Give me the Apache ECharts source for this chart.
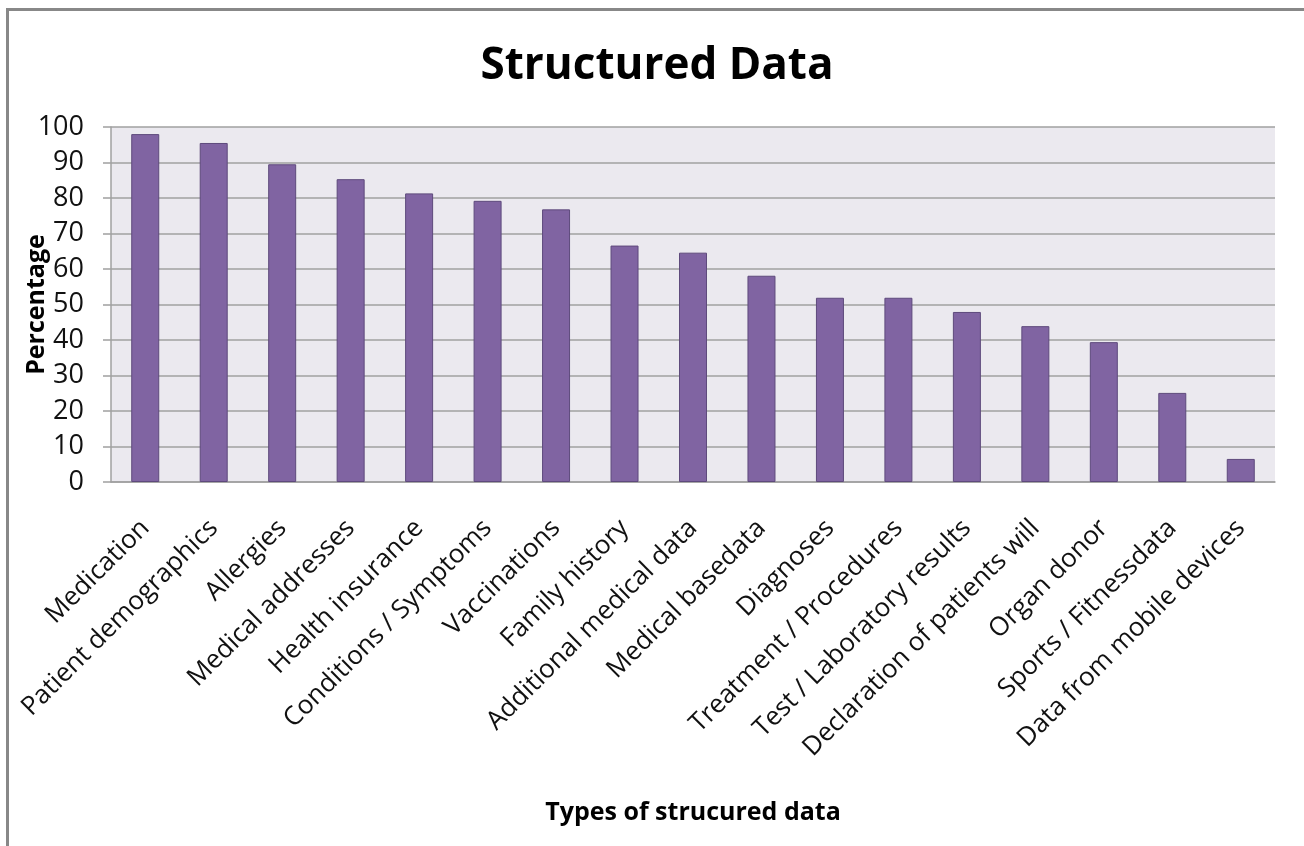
<!DOCTYPE html>
<html>
<head>
<meta charset="utf-8">
<title>Structured Data</title>
<script src="https://cdn.jsdelivr.net/npm/echarts@6/dist/echarts.min.js"></script>
<style>
  html, body { margin: 0; padding: 0; background: #fff; overflow: hidden; }
  #frame {
    position: absolute; left: 6px; top: 8px; width: 1400px; height: 1000px;
    border-top: 3px solid #888; border-left: 3px solid #888;
  }
  #chart { position: absolute; left: 0; top: 0; width: 1304px; height: 846px; }
</style>
</head>
<body>
<div id="frame"></div>
<div id="chart"></div>
<script>
// Types of structured data, sorted as in the source chart
const categories = [
  'Medication',
  'Patient demographics',
  'Allergies',
  'Medical addresses',
  'Health insurance',
  'Conditions / Symptoms',
  'Vaccinations',
  'Family history',
  'Additional medical data',
  'Medical basedata',
  'Diagnoses',
  'Treatment / Procedures',
  'Test / Laboratory results',
  'Declaration of patients will',
  'Organ donor',
  'Sports / Fitnessdata',
  'Data from mobile devices',
];

// Percentage per type
const percentages = [98, 95.5, 89.5, 85.3, 81.3, 79.2, 76.8, 66.6, 64.6, 58.1, 51.9, 51.9, 47.9, 43.9, 39.4, 25.1, 6.5];

const yTicks = { min: 0, max: 100, interval: 10 };

const FONT = '"Open Sans", "DejaVu Sans", sans-serif';
const BAR_COLOR = '#8064A2';
const BAR_BORDER = '#5E4A7C';
const GRID_LINE = '#A0A0A0';

const chart = echarts.init(document.getElementById('chart'));

const option = {
  animation: false,
  title: {
    text: 'Structured Data',
    left: 652,
    top: 39,
    textAlign: 'center',
    textStyle: {
      fontFamily: FONT,
      fontSize: 44,
      fontWeight: 'bold',
      color: '#000',
    },
  },
  grid: {
    left: 111,
    right: 29,
    top: 127,
    bottom: 364,
    containLabel: false,
    outerBoundsMode: 'none',
    show: true,
    backgroundColor: '#EBE9EF',
    borderWidth: 0,
  },
  xAxis: {
    type: 'category',
    data: categories,
    name: 'Types of strucured data',
    nameLocation: 'middle',
    nameGap: 318,
    nameMoveOverlap: false,
    nameTextStyle: {
      fontFamily: FONT,
      fontSize: 25,
      fontWeight: 'bold',
      color: '#000',
    },
    axisLine: { lineStyle: { color: GRID_LINE, width: 1.5 } },
    axisTick: {
      alignWithLabel: false,
      length: 8,
      lineStyle: { color: GRID_LINE, width: 1.5 },
    },
    axisLabel: {
      interval: 0,
      rotate: 45,
      margin: 42,
      fontFamily: FONT,
      fontSize: 26,
      color: '#111',
    },
  },
  yAxis: {
    type: 'value',
    min: yTicks.min,
    max: yTicks.max,
    interval: yTicks.interval,
    name: 'Percentage',
    nameLocation: 'middle',
    nameGap: 62,
    nameMoveOverlap: false,
    nameTextStyle: {
      fontFamily: FONT,
      fontSize: 25,
      fontWeight: 'bold',
      color: '#000',
    },
    axisLine: { show: true, lineStyle: { color: GRID_LINE, width: 1.5 } },
    axisTick: { show: true, length: 8, lineStyle: { color: GRID_LINE, width: 1.5 } },
    axisLabel: {
      margin: 27,
      fontFamily: FONT,
      fontSize: 27,
      color: '#111',
    },
    splitLine: { lineStyle: { color: GRID_LINE, width: 1.5 } },
  },
  series: [
    {
      type: 'bar',
      data: percentages,
      barWidth: 28,
      itemStyle: {
        color: BAR_COLOR,
        borderColor: BAR_BORDER,
        borderWidth: 1,
      },
    },
  ],
};

chart.setOption(option);
</script>
</body>
</html>
